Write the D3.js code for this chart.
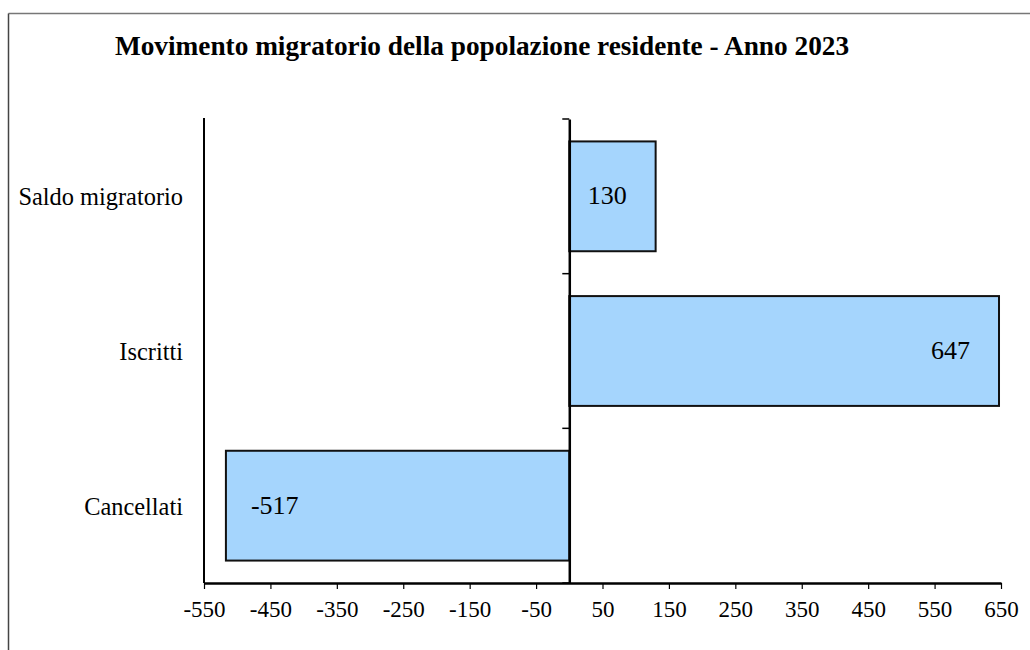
<!DOCTYPE html>
<html>
<head>
<meta charset="utf-8">
<script src="https://cdn.jsdelivr.net/npm/d3@7"></script>
<style>
  html, body { margin: 0; padding: 0; background: #fff; }
  svg { display: block; }
  text { font-family: "Liberation Serif", "Times New Roman", serif; fill: #000; }
</style>
</head>
<body>
<svg id="chart" width="1030" height="650"></svg>
<script>
const title = "Movimento migratorio della popolazione residente - Anno 2023";
const categories = ["Saldo migratorio", "Iscritti", "Cancellati"];
const values = [130, 647, -517];
const tickValues = [-550, -450, -350, -250, -150, -50, 50, 150, 250, 350, 450, 550, 650];

const svg = d3.select("#chart");

// frame
svg.append("line").attr("x1", 8.5).attr("x2", 1030).attr("y1", 13.5).attr("y2", 13.5)
  .attr("stroke", "#777").attr("stroke-width", 1.5);
svg.append("line").attr("x1", 8.5).attr("x2", 8.5).attr("y1", 13.5).attr("y2", 650)
  .attr("stroke", "#444").attr("stroke-width", 1.5);

// title
svg.append("text").attr("x", 482).attr("y", 55).attr("text-anchor", "middle")
  .attr("font-weight", "bold").attr("font-size", 27.3).text(title);

const x = d3.scaleLinear().domain([-550, 650]).range([204, 1001]);
const y = d3.scaleBand().domain(categories).range([119, 583])
  .paddingInner(0.29).paddingOuter(0.145);

// left plot edge line
svg.append("line").attr("x1", x(-550)).attr("x2", x(-550)).attr("y1", 118).attr("y2", 583)
  .attr("stroke", "#000").attr("stroke-width", 2);

// bars
svg.append("g").selectAll("rect").data(values).join("rect")
  .attr("x", (d) => Math.min(x(0), x(d)))
  .attr("y", (d, i) => y(categories[i]))
  .attr("width", (d) => Math.abs(x(d) - x(0)))
  .attr("height", y.bandwidth())
  .attr("fill", "#a5d5fd")
  .attr("stroke", "#111").attr("stroke-width", 2);

// bottom axis
const xAxis = d3.axisBottom(x).tickValues(tickValues).tickSize(6).tickSizeOuter(0).tickPadding(6)
  .tickFormat((d) => String(d));
const gx = svg.append("g").attr("transform", `translate(0,583)`).call(xAxis);
gx.attr("font-family", null);
gx.select(".domain").attr("stroke", "#000").attr("stroke-width", 2.5);
gx.selectAll(".tick line").attr("stroke", "#000").attr("stroke-width", 1.2);
gx.selectAll(".tick text").attr("font-size", 23)
  .attr("dy", null).attr("y", 34);

// category axis at zero
const yAxis = d3.axisLeft(y).tickValues([]).tickSizeOuter(0);
const gy = svg.append("g").attr("transform", `translate(${x(0)},0)`).call(yAxis);
gy.select(".domain").attr("stroke", "#000").attr("stroke-width", 2.5);
const step = y.step();
const sepTicks = [0, 1, 2, 3].map((k) => 119 + k * step);
gy.selectAll(".sep").data(sepTicks).join("line").attr("class", "sep")
  .attr("x1", -7).attr("x2", 0).attr("y1", (d) => d).attr("y2", (d) => d)
  .attr("stroke", "#000").attr("stroke-width", 1.5);

// category labels
svg.append("g").selectAll("text").data(categories).join("text")
  .attr("x", 183).attr("y", (d) => y(d) + y.bandwidth() / 2 + 9)
  .attr("text-anchor", "end").attr("font-size", 24.4).text((d) => d);

// data labels (inside end)
svg.append("g").selectAll("text").data(values).join("text")
  .attr("x", (d) => d >= 0 ? x(d) - 29 : x(d) + 25)
  .attr("y", (d, i) => y(categories[i]) + y.bandwidth() / 2 + 8)
  .attr("text-anchor", (d) => d >= 0 ? "end" : "start")
  .attr("font-size", 26).text((d) => d);
</script>
</body>
</html>
